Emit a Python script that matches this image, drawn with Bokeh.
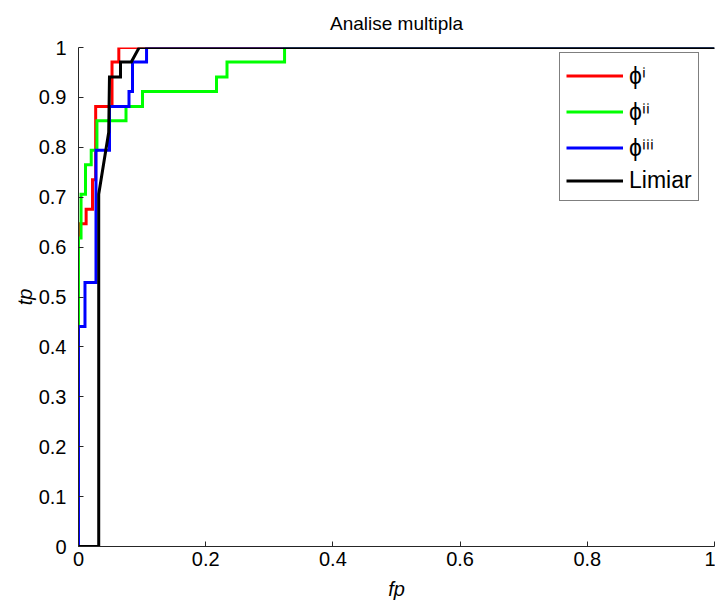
from bokeh.plotting import figure
from bokeh.models import Range1d, FixedTicker, Legend, LegendItem
from bokeh.embed import file_html
from bokeh.resources import INLINE

# ROC curves (false-positive rate vs true-positive rate) for each feature set
fp_phi1 = [0, 0, 0.012, 0.012, 0.022, 0.022, 0.027, 0.027, 0.0527, 0.0527, 0.0634, 0.0634, 1]
tp_phi1 = [0, 0.647, 0.647, 0.676, 0.676, 0.735, 0.735, 0.882, 0.882, 0.971, 0.971, 1, 1]

fp_phi2 = [0, 0, 0.004, 0.004, 0.011, 0.011, 0.020, 0.020, 0.029, 0.029, 0.0747, 0.0747,
           0.1006, 0.1006, 0.217, 0.217, 0.2335, 0.2335, 0.324, 0.324, 1]
tp_phi2 = [0, 0.618, 0.618, 0.706, 0.706, 0.765, 0.765, 0.794, 0.794, 0.853, 0.853, 0.882,
           0.882, 0.912, 0.912, 0.941, 0.941, 0.971, 0.971, 1, 1]

fp_phi3 = [0, 0, 0.0102, 0.0102, 0.0275, 0.0275, 0.0487, 0.0487, 0.0794, 0.0794, 0.0849, 0.0849,
           0.107, 0.107, 1]
tp_phi3 = [0, 0.441, 0.441, 0.529, 0.529, 0.794, 0.794, 0.882, 0.882, 0.912, 0.912, 0.971,
           0.971, 1, 1]

fp_limiar = [0, 0.0318, 0.0318, 0.0475, 0.0487, 0.066, 0.066, 0.083, 0.0954, 1]
tp_limiar = [0, 0, 0.706, 0.83, 0.941, 0.941, 0.971, 0.971, 1, 1]

series_names = ["ϕⁱ", "ϕⁱⁱ", "ϕⁱⁱⁱ", "Limiar"]
series_colors = ["#ff0000", "#00ff00", "#0000ff", "#000000"]

x_ticks = [0, 0.2, 0.4, 0.6, 0.8, 1]
x_tick_labels = ["0", "0.2", "0.4", "0.6", "0.8", "1"]
y_ticks = [0, 0.1, 0.2, 0.3, 0.4, 0.5, 0.6, 0.7, 0.8, 0.9, 1]
y_tick_labels = ["0", "0.1", "0.2", "0.3", "0.4", "0.5", "0.6", "0.7", "0.8", "0.9", "1"]

FONT = "Liberation Sans"

p = figure(width=715, height=605, output_backend="svg", toolbar_location=None,
           x_range=Range1d(0, 1), y_range=Range1d(0, 1),
           min_border_left=78, min_border_right=1, min_border_top=46, min_border_bottom=59)

p.title.text = "Analise multipla"
p.title.align = "center"
p.title.vertical_align = "top"
p.title.text_font = FONT
p.title.text_font_size = "19px"
p.title.text_font_style = "normal"
p.title.text_color = "#000000"
p.title.standoff = 24

p.outline_line_color = None
p.xgrid.grid_line_color = None
p.ygrid.grid_line_color = None
p.background_fill_color = "white"
p.border_fill_color = "white"

for ax in (p.xaxis[0], p.yaxis[0]):
    ax.axis_line_color = "#262626"
    ax.major_tick_line_color = "#262626"
    ax.major_tick_in = 5
    ax.major_tick_out = 0
    ax.minor_tick_line_color = None
    ax.major_label_text_font = FONT
    ax.major_label_text_font_size = "20px"
    ax.major_label_text_color = "#000000"
    ax.axis_label_text_font = FONT
    ax.axis_label_text_font_size = "20px"
    ax.axis_label_text_font_style = "italic"
    ax.axis_label_text_color = "#000000"

p.xaxis.ticker = FixedTicker(ticks=x_ticks)
p.xaxis.major_label_overrides = dict(zip(x_ticks, x_tick_labels))
p.yaxis.ticker = FixedTicker(ticks=y_ticks)
p.yaxis.major_label_overrides = dict(zip(y_ticks, y_tick_labels))
p.xaxis.axis_label = "fp"
p.yaxis.axis_label = "tp"
p.xaxis.major_label_standoff = 5
p.yaxis.major_label_standoff = 12
p.xaxis.axis_label_standoff = 9
p.yaxis.axis_label_standoff = 0

curves = [(fp_phi1, tp_phi1), (fp_phi2, tp_phi2), (fp_phi3, tp_phi3), (fp_limiar, tp_limiar)]
renderers = []
for (xs, ys), color in zip(curves, series_colors):
    r = p.line(xs, ys, line_color=color, line_width=3, line_join="miter")
    renderers.append(r)

legend = Legend(
    items=[LegendItem(label=n, renderers=[r]) for n, r in zip(series_names, renderers)],
    location=(481, 345),
    border_line_color="#000000", border_line_width=1,
    background_fill_color="white", background_fill_alpha=1,
    padding=6, spacing=4, margin=0,
    label_height=27, glyph_height=27, glyph_width=57, label_standoff=6,
    label_text_font=FONT, label_text_font_size="23px", label_text_color="#000000",
)
p.add_layout(legend, "center")

open("out.html", "w").write(file_html(p, INLINE))
